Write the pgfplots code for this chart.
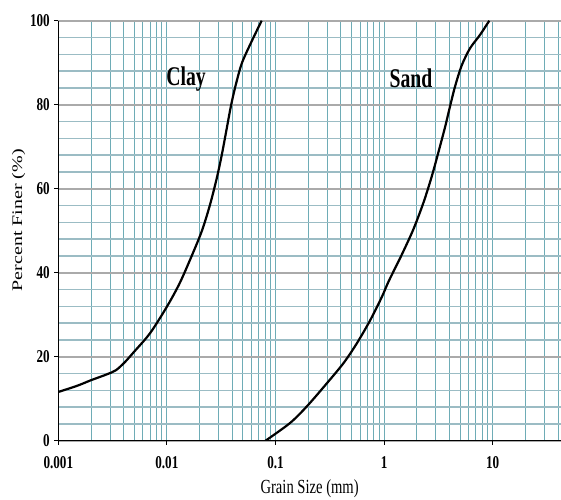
\documentclass[border=0pt]{standalone}
\usepackage{pgfplots}
\pgfplotsset{compat=1.18}
\usepackage{fontspec}
\setmainfont{Liberation Serif}
\usepackage{graphicx}
\definecolor{vgrid}{RGB}{110,172,182}
\definecolor{hgrid}{RGB}{155,188,196}
\definecolor{mgrid}{RGB}{170,170,170}
\newcommand{\sq}[1]{\scalebox{0.73}[1]{#1}}
\newcommand{\tl}[1]{\sq{\fontsize{18bp}{20bp}\selectfont\bfseries #1}}
\begin{document}
\begin{tikzpicture}
\begin{axis}[
  at={(0,0)}, anchor=south west,
  scale only axis, width=502.7bp, height=420bp,
  xmode=log, xmin=0.001, xmax=42.6, ymin=0, ymax=100,
  axis lines*=left,
  axis line style={black, line width=1.3bp},
  tick align=outside, major tick length=4bp, minor tick length=0pt,
  tick style={black, line width=1bp},
  xtick={0.001,0.01,0.1,1,10},
  xticklabels={\tl{0.001},\tl{0.01},\tl{0.1},\tl{1},\tl{10}},
  minor xtick={0.002,0.003,0.004,0.005,0.006,0.007,0.008,0.009,
               0.02,0.03,0.04,0.05,0.06,0.07,0.08,0.09,
               0.2,0.3,0.4,0.5,0.6,0.7,0.8,0.9,
               2,3,4,5,6,7,8,9,20,30,40},
  ytick={0,20,40,60,80,100},
  yticklabels={\tl{0},\tl{20},\tl{40},\tl{60},\tl{80},\tl{100}},
  minor ytick={4,8,12,16,24,28,32,36,44,48,52,56,64,68,72,76,84,88,92,96},
  grid=both,
  major x grid style={vgrid, line width=0.9bp},
  minor x grid style={vgrid, line width=0.9bp},
  major y grid style={mgrid, line width=2.2bp},
  minor y grid style={hgrid, line width=1.4bp},
  xticklabel style={anchor=north, inner sep=0pt, yshift=-12bp},
  yticklabel style={anchor=east, inner sep=0pt, xshift=-4.3bp},
  xlabel={\sq{\fontsize{20bp}{22bp}\selectfont Grain Size (mm)}},
  ylabel={\scalebox{1}[0.73]{\fontsize{20bp}{22bp}\selectfont Percent Finer (\%)}},
  every axis x label/.style={at={(axis description cs:0.5,0)}, anchor=center, yshift=-48.3bp},
  every axis y label/.style={at={(axis description cs:0,0.525)}, anchor=center, xshift=-39.8bp, rotate=90},
]
\addplot[black, line width=2.2bp, smooth] coordinates {
(0.001,11.6) (0.0015,13.1) (0.002,14.4) (0.0028,15.8) (0.0034,16.8)
(0.0041,18.7) (0.0050,21.2) (0.0070,25.6) (0.0100,31.9) (0.0130,37.3)
(0.0163,43.0) (0.0209,49.8) (0.0249,56.1) (0.0288,62.5) (0.0320,68.0)
(0.0355,74.2) (0.0387,79.4) (0.0424,84.0) (0.0489,89.8) (0.0604,95.1) (0.0746,100)
};
\addplot[black, line width=2.2bp, smooth] coordinates {
(0.081,0) (0.136,4.2) (0.195,8.2) (0.298,13.7) (0.424,18.5) (0.562,23.2)
(0.746,28.7) (0.957,34.3) (1.10,37.9) (1.45,44.2) (1.86,50.3) (2.30,56.6)
(2.74,62.8) (3.16,68.6) (3.64,74.6) (4.05,79.6) (4.50,84.3) (5.18,89.3)
(6.18,93.4) (7.64,96.6) (9.31,100)
};
\node at (axis cs:0.015,86.2) {\sq{\fontsize{27bp}{30bp}\selectfont\bfseries Clay}};
\node at (axis cs:1.77,86.2) {\sq{\fontsize{27bp}{30bp}\selectfont\bfseries Sand}};
\end{axis}
\pgfresetboundingbox
\path[use as bounding box] (-58.3bp,-59.3bp) rectangle (502.7bp,440.7bp);
\end{tikzpicture}
\end{document}
